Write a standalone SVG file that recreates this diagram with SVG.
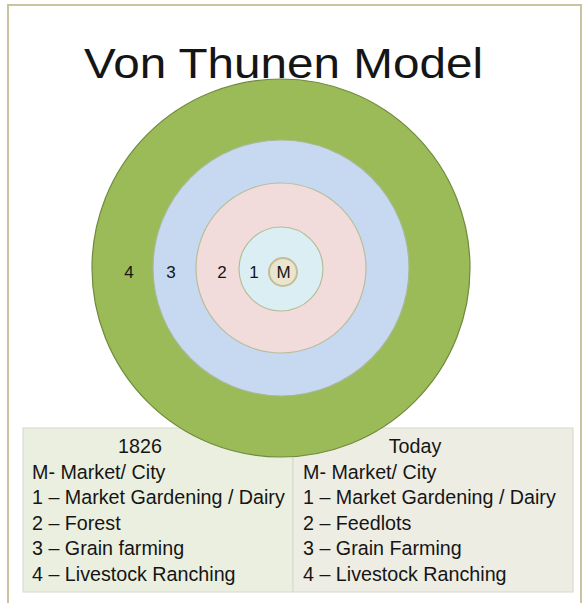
<svg xmlns="http://www.w3.org/2000/svg" width="588" height="603" viewBox="0 0 588 603">
<style>
  .t { font-family: "Liberation Sans", Arial, sans-serif; fill: #151515; }
  .row { font-size: 19.7px; }
  .lbl { font-size: 17px; text-anchor: middle; }
  .ring { stroke-width: 1.2; }
</style>
<rect x="0" y="0" width="588" height="603" fill="#ffffff"/>
<path d="M8 603 V5 H581 V603" fill="none" stroke="#C9C3A0" stroke-width="2"/>
<text class="t" x="84" y="78" font-size="43" textLength="399" lengthAdjust="spacingAndGlyphs">Von Thunen Model</text>
<g id="legend-table">
  <rect x="23" y="428" width="270" height="164" fill="#EBEFDF" stroke="#D6D8CC" stroke-width="1"/>
  <rect x="293" y="428" width="280" height="164" fill="#EEEDE4" stroke="#D6D8CC" stroke-width="1"/>
  <g id="col-1826">
    <text class="t row" x="140" y="453" text-anchor="middle">1826</text>
    <text class="t row" x="32" y="479">M- Market/ City</text>
    <text class="t row" x="32" y="504">1 – Market Gardening / Dairy</text>
    <text class="t row" x="32" y="530">2 – Forest</text>
    <text class="t row" x="32" y="555">3 – Grain farming</text>
    <text class="t row" x="32" y="581">4 – Livestock Ranching</text>
  </g>
  <g id="col-today">
    <text class="t row" x="415" y="453" text-anchor="middle">Today</text>
    <text class="t row" x="303" y="479">M- Market/ City</text>
    <text class="t row" x="303" y="504">1 – Market Gardening / Dairy</text>
    <text class="t row" x="303" y="530">2 – Feedlots</text>
    <text class="t row" x="303" y="555">3 – Grain Farming</text>
    <text class="t row" x="303" y="581">4 – Livestock Ranching</text>
  </g>
</g>
<g id="zone-4">
  <circle class="ring" cx="281" cy="268" r="189" fill="#9BBB59" stroke="#6F8B3C"/>
  <text class="t lbl" x="129" y="278">4</text>
</g>
<g id="zone-3">
  <circle class="ring" cx="281" cy="268" r="128" fill="#C6D9F1" stroke="#A9B894"/>
  <text class="t lbl" x="171" y="278">3</text>
</g>
<g id="zone-2">
  <circle class="ring" cx="281" cy="268" r="85" fill="#F2DCDB" stroke="#B8BE9C"/>
  <text class="t lbl" x="222" y="278">2</text>
</g>
<g id="zone-1">
  <circle class="ring" cx="281" cy="269" r="42" fill="#DBEEF3" stroke="#B4BE98"/>
  <text class="t lbl" x="254" y="278">1</text>
</g>
<g id="zone-M">
  <circle cx="283" cy="272" r="14" fill="#E9E5CF" stroke="#C4BD97" stroke-width="2"/>
  <text class="t lbl" x="283.5" y="278">M</text>
</g>
</svg>
